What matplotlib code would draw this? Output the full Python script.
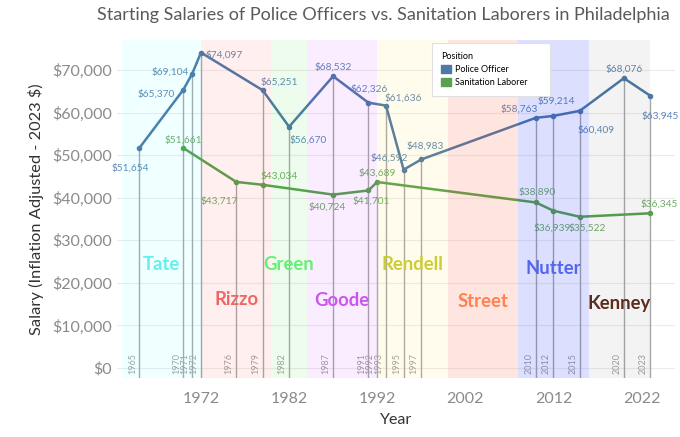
import matplotlib
matplotlib.use("Agg")
import matplotlib.pyplot as plt
from matplotlib.patches import Patch
from matplotlib.ticker import FuncFormatter

plt.rcParams['font.family'] = ['Lato', 'DejaVu Sans']

# police officer starting salaries (2023 $)
police_years = [1965, 1970, 1971, 1972, 1979, 1982, 1987, 1991, 1993, 1995, 1997, 2010, 2012, 2015, 2020, 2023]
police_vals = [51654, 65370, 69104, 74097, 65251, 56670, 68532, 62326, 61636, 46592, 48983, 58763, 59214, 60409, 68076, 63945]

# sanitation laborer starting salaries (2023 $)
sanit_years = [1970, 1976, 1979, 1987, 1991, 1992, 2010, 2012, 2015, 2023]
sanit_vals = [51661, 43717, 43034, 40724, 41701, 43689, 38890, 36939, 35522, 36345]

# mayor terms
mayors = ['Tate', 'Rizzo', 'Green', 'Goode', 'Rendell', 'Street', 'Nutter', 'Kenney']
term_start = [1963, 1972, 1980, 1984, 1992, 2000, 2008, 2016]
term_end = [1972, 1980, 1984, 1992, 2000, 2008, 2016, 2023]

band_colors = ['#00ffff', '#ff2a1a', '#00dd00', '#b000ff', '#ffdd00', '#ff4a20', '#1020ff', '#303030']
band_alpha = [0.06, 0.065, 0.07, 0.07, 0.07, 0.14, 0.14, 0.055]
name_colors = ['#66eeee', '#ee6666', '#66ee77', '#cc55ee', '#cccc33', '#ff8050', '#5566ee', '#5a2c1c']
name_y = [24300, 16000, 24200, 15800, 24200, 15600, 23300, 15100]

# label offsets in pixels (dx, dy)
police_off = [(-9, -20), (-27, -4), (-22, 2), (23, -2), (17, 8), (19, -13), (0, 9), (1, 14),
              (17, 8), (-14, 12), (4, 13), (-17, 9), (3, 15), (16, -19), (0, 9), (10, -20)]
sanit_off = [(0, 8), (-17, -19), (17, 9), (-6, -12), (3, -11), (0, 9), (1, 10), (-1, -17), (7, -11), (9, 9)]

police_col = '#4e79a7'
sanit_col = '#59a14f'

fig = plt.figure(figsize=(6.8, 4.37), dpi=100)
ax = fig.add_axes([117/680, 1 - 378/437, (675 - 117)/680, (378 - 40)/437])
ax.set_xlim(1962.47, 2025.8)
ax.set_ylim(-2349, 77047)

# gridlines
for v in range(0, 80000, 10000):
    ax.axhline(v, color='#ececec', lw=0.8, zorder=0)

# drop lines at each year
all_years = sorted(set(police_years) | set(sanit_years))
for yr in all_years:
    top = police_vals[police_years.index(yr)] if yr in police_years else sanit_vals[sanit_years.index(yr)]
    ax.plot([yr, yr], [-2349, top], color='#a8a8a8', lw=1.0, zorder=1)
    ax.annotate(str(yr), (yr, -2000), xytext=(-7, 3), textcoords='offset pixels',
                rotation=90, fontsize=6.5, color='#a0a0a0', ha='center', va='bottom', zorder=2)

ax.plot(police_years, police_vals, color=police_col, lw=1.8, marker='o', ms=3, zorder=3)
ax.plot(sanit_years, sanit_vals, color=sanit_col, lw=1.8, marker='o', ms=3, zorder=3)

for x, y, (dx, dy) in zip(police_years, police_vals, police_off):
    ax.annotate(f'${y:,}', (x, y), xytext=(dx, dy), textcoords='offset pixels',
                ha='center', va='center', fontsize=7.3, color='#6088b6', zorder=4)
for x, y, (dx, dy) in zip(sanit_years, sanit_vals, sanit_off):
    ax.annotate(f'${y:,}', (x, y), xytext=(dx, dy), textcoords='offset pixels',
                ha='center', va='center', fontsize=7.3, color='#70aa66', zorder=4)

# mayor bands drawn on top, semi transparent
for i in range(len(mayors)):
    ax.axvspan(term_start[i], term_end[i], color=band_colors[i], alpha=band_alpha[i], lw=0, zorder=5)
    ax.text((term_start[i] + term_end[i]) / 2, name_y[i], mayors[i], color=name_colors[i],
            fontsize=13.3, fontweight='bold', ha='center', va='center', zorder=6)

ax.set_xticks([1972, 1982, 1992, 2002, 2012, 2022])
ax.set_yticks(range(0, 80000, 10000))
ax.yaxis.set_major_formatter(FuncFormatter(lambda v, p: f'${int(v):,}'))
ax.tick_params(length=0, labelsize=11.5, labelcolor='#8a8a8a')
ax.tick_params(axis='x', pad=10)
for s in ax.spines.values():
    s.set_visible(False)

ax.set_xlabel('Year', fontsize=11.5, color='#333333', labelpad=5)
ax.set_ylabel('Salary (Inflation Adjusted - 2023 $)', fontsize=11.8, color='#333333', labelpad=6)
fig.suptitle('Starting Salaries of Police Officers vs. Sanitation Laborers in Philadelphia',
             x=383/680, y=0.985, fontsize=13, color='#5a5a5a')

handles = [Patch(color=police_col, label='Police Officer'),
           Patch(color=sanit_col, label='Sanitation Laborer      ')]
leg = ax.legend(handles=handles, title='Position', loc='upper left',
                bbox_to_anchor=(432/680, 1 - 43/437), bbox_transform=fig.transFigure,
                fontsize=6.5, title_fontsize=6.5, frameon=True, fancybox=False,
                edgecolor='#e0e0e0', framealpha=1, handlelength=1.1, handleheight=1.1,
                handletextpad=0.4, labelspacing=0.4, borderpad=1.0, borderaxespad=0)
leg._legend_box.align = 'left'
leg.get_frame().set_linewidth(0.8)
leg.set_zorder(10)

fig.savefig('out.png', dpi=100)
